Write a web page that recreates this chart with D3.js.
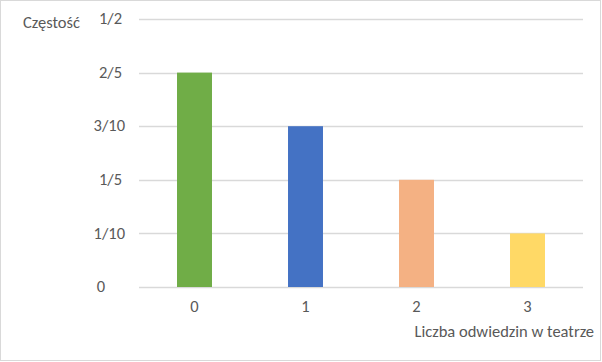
<!DOCTYPE html>
<html>
<head>
<meta charset="utf-8">
<script src="https://cdn.jsdelivr.net/npm/d3@7"></script>
<style>
  body { margin: 0; background: #fff; }
  text { font-family: Carlito, Calibri, Lato, "Open Sans", sans-serif; fill: #595959; }
</style>
</head>
<body>
<div id="chart"></div>
<script>
var categories = ["0", "1", "2", "3"];
var values = [0.4, 0.3, 0.2, 0.1];
var colors = ["#70ad47", "#4472c4", "#f4b183", "#ffd966"];
var tickValues = [0, 0.1, 0.2, 0.3, 0.4, 0.5];
var tickLabels = ["0", "1/10", "1/5", "3/10", "2/5", "1/2"];

var width = 602, height = 362;
var margin = {top: 19, right: 19, bottom: 75, left: 139};
var fontSize = 16.5;

var svg = d3.select("#chart").append("svg")
	.attr("width", width)
	.attr("height", height);

svg.append("rect")
	.attr("x", 0.5).attr("y", 0.5)
	.attr("width", width - 2).attr("height", height - 2)
	.attr("fill", "#fff")
	.attr("stroke", "#d9d9d9");

var xScale = d3.scaleBand()
	.domain(categories)
	.range([margin.left, width - margin.right])
	.paddingInner(0.685)
	.paddingOuter(0.3425);

var yScale = d3.scaleLinear()
	.domain([0, 0.5])
	.range([height - margin.bottom, margin.top]);

// gridlines
svg.append("g").selectAll("line")
	.data(tickValues)
	.enter().append("line")
	.attr("x1", margin.left)
	.attr("x2", width - margin.right)
	.attr("y1", d => Math.round(yScale(d)) + 0.5)
	.attr("y2", d => Math.round(yScale(d)) + 0.5)
	.attr("stroke", "#d9d9d9")
	.attr("stroke-width", 1.3);

// bars
svg.append("g").selectAll("rect")
	.data(values)
	.enter().append("rect")
	.attr("x", (d, i) => xScale(categories[i]))
	.attr("y", d => yScale(d))
	.attr("width", xScale.bandwidth())
	.attr("height", d => yScale(0) - yScale(d))
	.attr("fill", (d, i) => colors[i]);

// excel "# ?/??" style: labels padded on the right
function padShift(label) {
	if (label.indexOf("/") < 0) return 20;
	return label.split("/")[1].length == 1 ? 3 : 0;
}

// y labels
svg.append("g").selectAll("text")
	.data(tickValues)
	.enter().append("text")
	.attr("x", (d, i) => 125 - padShift(tickLabels[i]))
	.attr("y", d => yScale(d))
	.attr("dy", "0.32em")
	.attr("text-anchor", "end")
	.attr("font-size", fontSize)
	.text((d, i) => tickLabels[i]);

// x labels
svg.append("g").selectAll("text")
	.data(categories)
	.enter().append("text")
	.attr("x", d => xScale(d) + xScale.bandwidth() / 2)
	.attr("y", 312)
	.attr("text-anchor", "middle")
	.attr("font-size", fontSize)
	.text(d => d);

svg.append("text")
	.attr("x", 23)
	.attr("y", 28)
	.attr("font-size", fontSize)
	.text("Częstość");

svg.append("text")
	.attr("x", 594)
	.attr("y", 337)
	.attr("text-anchor", "end")
	.attr("font-size", fontSize)
	.text("Liczba odwiedzin w teatrze");
</script>
</body>
</html>
